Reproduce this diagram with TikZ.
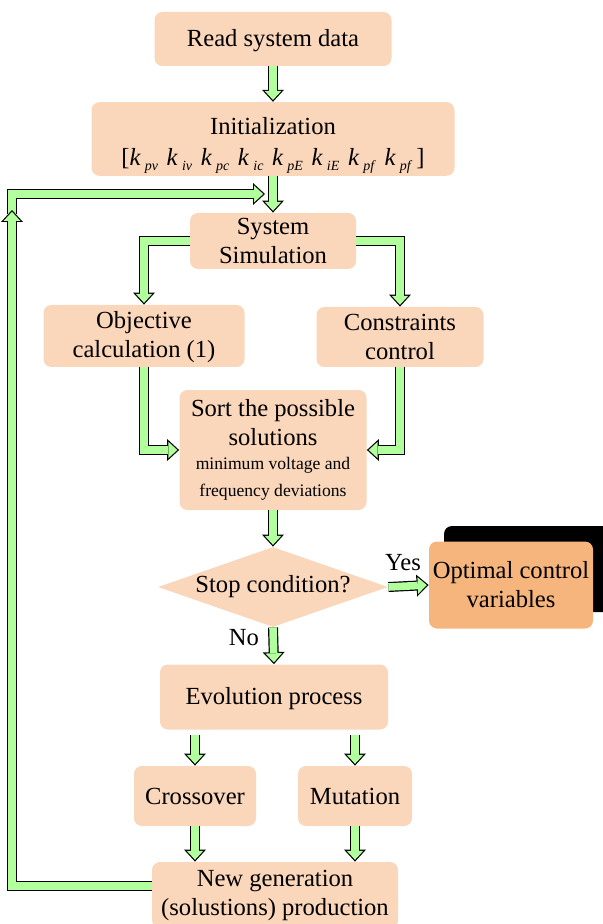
\documentclass[tikz,border=0pt]{standalone}
\usepackage{fontspec}
\setmainfont{Liberation Serif}
\usepackage{tikz}
\usetikzlibrary{arrows.meta,positioning,calc,shapes.geometric}

\definecolor{boxfill}{RGB}{250,214,186}
\definecolor{optfill}{RGB}{246,181,125}
\definecolor{arrowgreen}{RGB}{178,255,158}

\tikzset{
  box/.style={fill=boxfill, rounded corners=4pt, align=center, inner sep=1pt,
    font=\fontsize{12.3}{14.5}\selectfont},
  gout/.style={draw=black, line width=5pt, line join=miter,
    -{Triangle[width=11pt,length=6pt,line width=0pt]}},
  gin/.style={draw=arrowgreen, line width=3.8pt, line join=miter,
    -{Triangle[width=8.3pt,length=4.5pt,line width=0pt]}, shorten >=0.9pt},
}
% outlined green block arrow
\newcommand{\garrow}[1]{\draw[gout] #1; \draw[gin] #1;}
\newcommand{\kk}[1]{\textit{k}\,\raisebox{-0.5ex}{\fontsize{7}{8}\selectfont\textit{#1}}}
\newcommand{\smalltxt}{\fontsize{8.8}{13.5}\selectfont}

\begin{document}
\begin{tikzpicture}[x=0.5pt, y=-0.5pt]
  \useasboundingbox (0,0) rectangle (602,924);

  % boxes
  \node[box, minimum width=118.5pt, minimum height=27pt] (read) at (273,39) {\rule{0pt}{10pt}Read system data};
  \node[box, minimum width=181.5pt, minimum height=35pt] (init) at (273,139)
    {\rule{0pt}{15pt}Initialization\\[1pt]
     [\kk{pv}\hspace{4.3pt}\kk{iv}\hspace{4.3pt}\kk{pc}\hspace{4.3pt}\kk{ic}\hspace{4.3pt}\kk{pE}\hspace{4.3pt}\kk{iE}\hspace{4.3pt}\kk{pf}\hspace{4.3pt}\kk{pf}\,]};
  \node[box, minimum width=83pt, minimum height=28pt] (sim) at (273,241) {System\\ Simulation};
  \node[box, minimum width=100.5pt, minimum height=31pt] (obj) at (144,336) {\rule{0pt}{10pt}Objective\\ calculation (1)};
  \node[box, minimum width=83.5pt, minimum height=30pt] (cons) at (400,337) {Constraints\\ control};
  \node[box, minimum width=93.5pt, minimum height=60pt] (sort) at (273,450)
    {Sort the possible\\ solutions\\[-2.5pt]
     {\smalltxt minimum voltage and}\\[-1pt]
     {\smalltxt frequency deviations}};
  \node[box, diamond, rounded corners=0pt, aspect=2.9, inner sep=0pt,
    minimum width=115pt, minimum height=40pt] (stop) at (273,587) {Stop condition?};
  \fill[black, rounded corners=4pt] (444,526) rectangle (612,612);
  \node[box, fill=optfill, minimum width=82pt, minimum height=43.5pt] (opt) at (511,585)
    {Optimal control\\ variables};
  \node[box, minimum width=114pt, minimum height=32.5pt] (evo) at (274,697) {\rule{0pt}{10pt}Evolution process};
  \node[box, minimum width=61pt, minimum height=30pt] (cross) at (195,796) {Crossover};
  \node[box, minimum width=57pt, minimum height=30pt] (mut) at (355,796) {Mutation};
  \node[box, minimum width=123pt, minimum height=33pt] (newgen) at (275,895)
    {New generation\\ (solustions) production};

  \node[font=\fontsize{12.3}{14.5}\selectfont] (yes) at (403,563) {Yes};
  \node[font=\fontsize{12.3}{14.5}\selectfont] (no) at (244,638) {No};

  % loop back
  \coordinate (loopstart) at (152,886);
  \coordinate (loopup) at (12,210);
  \coordinate (loopbase) at (12,214);
  \coordinate (loopend) at (265,194);

  % arrows
  \garrow{(read) -- (init)}
  \garrow{(init) -- (sim)}
  \garrow{(loopbase) |- (loopend)}
  \garrow{(loopstart) -| (loopup)}
  \garrow{(sim.west) -| (obj.north)}
  \garrow{(sim.east) -| (cons.north)}
  \garrow{(obj.south) |- (sort.west)}
  \garrow{(cons.south) |- (sort.east)}
  \garrow{(sort) -- (stop)}
  \garrow{(stop.east) -- (opt.west)}
  \garrow{(stop.south) -- (evo.north)}
  \garrow{([yshift=-2.5pt]evo.south -| cross.north) -- (cross.north)}
  \garrow{([yshift=-2.5pt]evo.south -| mut.north) -- (mut.north)}
  \garrow{(cross.south) -- (cross.south |- newgen.north)}
  \garrow{(mut.south) -- (mut.south |- newgen.north)}
\end{tikzpicture}
\end{document}
